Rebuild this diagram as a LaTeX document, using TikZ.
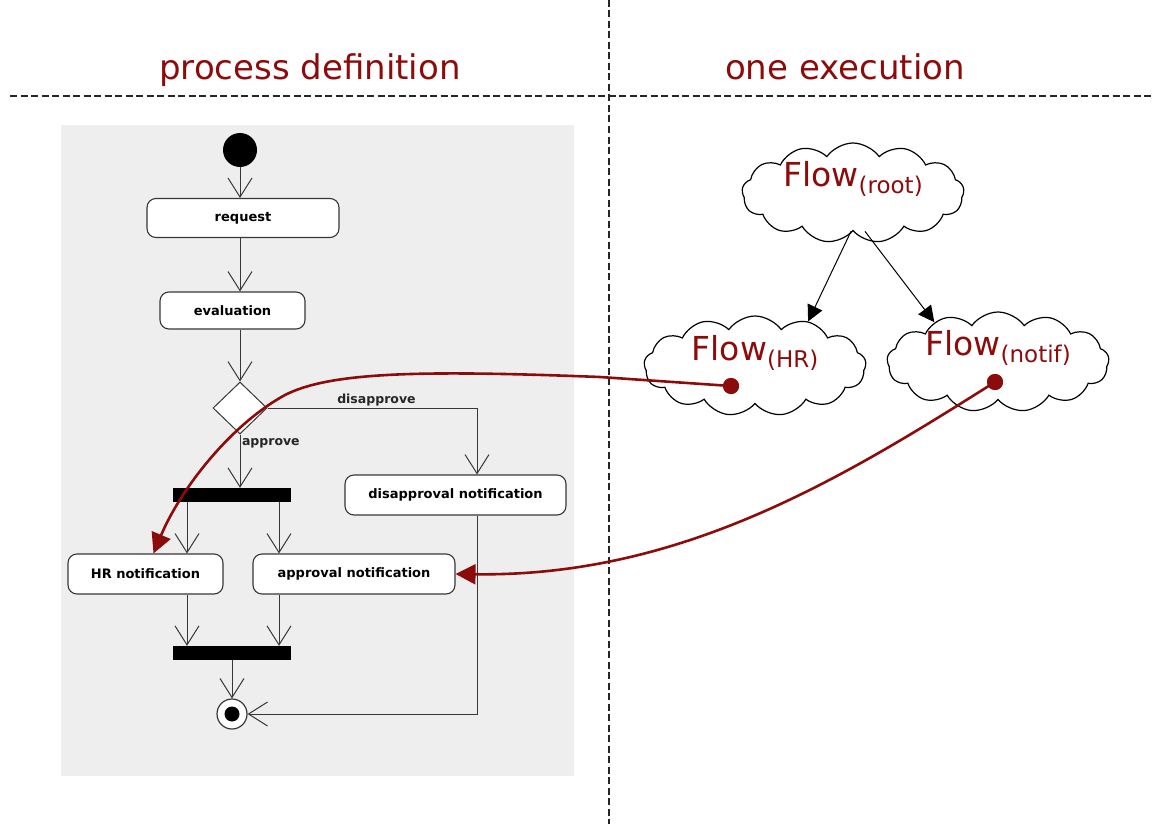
\documentclass[tikz,border=0pt]{standalone}
\usepackage{fontspec}
\setmainfont{DejaVu Sans}
\usetikzlibrary{arrows.meta,shapes.geometric,shapes.symbols}
\definecolor{wine}{RGB}{140,12,12}
\definecolor{panelgray}{RGB}{238,238,238}
\definecolor{linegray}{RGB}{55,55,55}
\begin{document}
\begin{tikzpicture}[x=1pt,y=-1pt,
  act/.style={draw=linegray, line width=1.1pt, fill=white, rounded corners=9pt,
    font=\fontsize{13}{15}\selectfont\bfseries, minimum height=39pt, inner sep=0pt},
  flow/.style={draw=linegray, line width=1pt,
    -{Straight Barb[length=19pt,width=24pt,line width=1pt]}},
  bar/.style={fill=black, minimum width=118pt, minimum height=14pt, inner sep=0pt},
  lbl/.style={font=\fontsize{12.5}{14}\selectfont\bfseries, text=black!85, inner sep=1.5pt},
  heading/.style={text=wine, font=\fontsize{34}{40}\selectfont},
  flowcloud/.style={cloud, draw=black, line width=1.2pt, cloud puffs=13, cloud puff arc=110,
    cloud ignores aspect, minimum width=222pt, minimum height=100pt, inner sep=0pt},
  flowtext/.style={text=wine, font=\fontsize{33}{36}\selectfont, inner sep=0pt},
  tree/.style={draw=black, line width=1pt, -{Triangle[length=16pt,width=16pt]}},
  redlink/.style={draw=wine, line width=2.6pt, -{Triangle[length=20pt,width=20pt]}},
  dot/.style={circle, fill=wine, minimum size=16pt, inner sep=0pt},
  divider/.style={draw=black!85, line width=1.3pt, dash pattern=on 7pt off 3.5pt}
]
\useasboundingbox (0,0) rectangle (1153,824);

% section dividers and headings
\draw[divider] (609,0) -- (609,824);
\draw[divider] (10,96) -- (1153,96);
\node[heading, anchor=base] (hdef) at (310,80) {process definition};
\node[heading, anchor=base] (hexe) at (845,80) {one execution};

% activity diagram panel
\fill[panelgray] (61,125) rectangle (574,776);

\coordinate (spine) at (240,0);
\coordinate (dcol) at (477,0);
\coordinate (hrcol) at (187,0);
\coordinate (apcol) at (279,0);

\node[circle, fill=black, minimum size=34pt, inner sep=0pt] (start) at (240,150) {};
\node[act, minimum width=192pt] (request) at (243,218) {request};
\node[act, minimum width=145pt, minimum height=37pt] (eval) at (232.5,310.5) {evaluation};
\node[diamond, draw=linegray, fill=white, line width=1pt, minimum width=54pt,
  minimum height=52pt, inner sep=0pt] (dec) at (240,408) {};
\node[bar] (fork) at (232,495) {};
\node[act, minimum width=221pt, minimum height=40pt] (dnote) at (455.5,495) {disapproval notification};
\node[act, minimum width=155pt, minimum height=40pt] (hrn) at (145.5,574) {HR notification};
\node[act, minimum width=202pt, minimum height=40pt] (apn) at (354,574) {approval notification};
\node[bar] (join) at (232,653) {};
\node[circle, draw=linegray, fill=white, line width=1.2pt, minimum size=30pt, inner sep=0pt] (final) at (232,714) {};
\node[circle, fill=black, minimum size=15pt, inner sep=0pt] (finaldot) at (final) {};

\draw[flow] (start) -- (request.north -| spine);
\draw[flow] (request.south -| spine) -- (eval.north -| spine);
\draw[flow] (eval.south -| spine) -- (dec.north);
\draw[flow] (dec.south) -- node[lbl, right, pos=0.17] {approve} (fork.north -| spine);
\draw[flow] (dec.east) -| node[lbl, above, pos=0.26] {disapprove} (dcol |- dnote.north);
\draw[flow] (fork.south -| hrcol) -- (hrn.north -| hrcol);
\draw[flow] (fork.south -| apcol) -- (apn.north -| apcol);
\draw[flow] (hrn.south -| hrcol) -- (join.north -| hrcol);
\draw[flow] (apn.south -| apcol) -- (join.north -| apcol);
\draw[flow] (join) -- (final);
\draw[flow] (dnote.south -| dcol) |- (final.east);

% execution tree of flows
\node[flowcloud] (root) at (853,193) {};
\node[flowcloud] (hrflow) at (755,366) {};
\node[flowcloud] (notif) at (998,362) {};
\node[flowtext, anchor=base] (roott) at (853,186) {Flow{\fontsize{23}{23}\selectfont\raisebox{-7pt}{(root)}}};
\node[flowtext, anchor=base] (hrt) at (755,360) {Flow{\fontsize{23}{23}\selectfont\raisebox{-7pt}{(HR)}}};
\node[flowtext, anchor=base] (notift) at (998,355) {Flow{\fontsize{23}{23}\selectfont\raisebox{-7pt}{(notif)}}};

\draw[tree] ([xshift=-2pt]root.south) -- (hrflow.40);
\draw[tree] ([xshift=12pt]root.south) -- (notif.148);

% links from each flow to its current activity
\node[dot] (hrdot) at (731,386) {};
\node[dot] (ndot) at (995,382) {};
\draw[redlink] (hrdot.center) -- (600,377) .. controls (420,370) and (330,372) .. (285,395)
  .. controls (230,425) and (180,490) .. ([xshift=8pt]hrn.north);
\draw[redlink] (ndot.center) .. controls (840,480) and (680,577) .. (apn.east);
\node[dot] at (hrdot) {};
\node[dot] at (ndot) {};
\end{tikzpicture}
\end{document}
